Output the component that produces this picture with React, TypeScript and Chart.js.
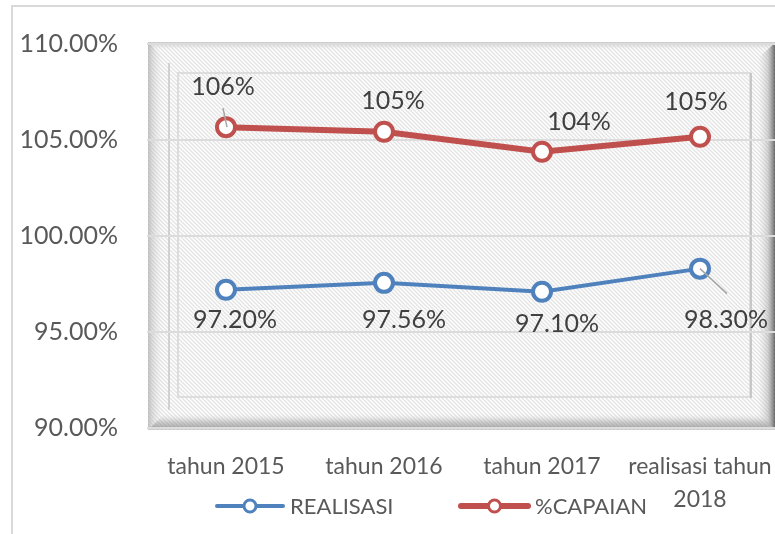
import React, { useEffect, useRef } from "react";
import { Chart, registerables } from "chart.js";

Chart.register(...registerables);

const categories: (string | string[])[] = ["tahun 2015", "tahun 2016", "tahun 2017", ["realisasi tahun", "2018"]];
const realisasi = [97.2, 97.56, 97.1, 98.3];
const capaian = [105.67, 105.43, 104.39, 105.17];
const realisasiLabels = ["97.20%", "97.56%", "97.10%", "98.30%"];
const capaianLabels = ["106%", "105%", "104%", "105%"];
const seriesNames = ["REALISASI", "%CAPAIAN"];
const yMin = 90;
const yMax = 110;
const yStep = 5;

const BLUE = "#4F81BD";
const RED = "#C0504D";
const TEXT = "#595959";
const FONT = "Lato, 'Open Sans', sans-serif";

function makeHatch(ctx: CanvasRenderingContext2D) {
  const c = document.createElement("canvas");
  c.width = 4;
  c.height = 4;
  const p = c.getContext("2d")!;
  p.fillStyle = "#ffffff";
  p.fillRect(0, 0, 4, 4);
  p.strokeStyle = "#e3e3e3";
  p.lineWidth = 1.3;
  p.beginPath();
  p.moveTo(-1, -1);
  p.lineTo(5, 5);
  p.moveTo(-1, 3);
  p.lineTo(1, 5);
  p.moveTo(3, -1);
  p.lineTo(5, 1);
  p.stroke();
  return ctx.createPattern(c, "repeat");
}

const framePlugin = {
  id: "frame",
  beforeDraw(chart: any) {
    const { ctx, chartArea: ca } = chart;
    ctx.save();
    ctx.fillStyle = "#ffffff";
    ctx.fillRect(0, 0, chart.width, chart.height);
    // outer chart border
    ctx.strokeStyle = "#d9d9d9";
    ctx.lineWidth = 2;
    ctx.strokeRect(12, 6, 2000, 2000);

    const x0 = ca.left + 1;
    const y0 = ca.top - 2;
    const x1 = ca.right - 3;
    const y1 = ca.bottom + 2;
    const pat = makeHatch(ctx);
    if (pat) {
      ctx.fillStyle = pat;
      ctx.fillRect(x0, y0, x1 - x0, y1 - y0);
    }
    // top edge
    let g = ctx.createLinearGradient(0, y0, 0, y0 + 8);
    g.addColorStop(0, "rgba(190,190,190,0.8)");
    g.addColorStop(1, "rgba(220,220,220,0)");
    ctx.fillStyle = g;
    ctx.fillRect(x0, y0, x1 - x0, 8);
    // left bevel
    g = ctx.createLinearGradient(x0, 0, x0 + 16, 0);
    g.addColorStop(0, "rgba(160,160,160,0.6)");
    g.addColorStop(0.4, "rgba(190,190,190,0.35)");
    g.addColorStop(1, "rgba(230,230,230,0)");
    ctx.fillStyle = g;
    ctx.beginPath();
    ctx.moveTo(x0, y0);
    ctx.lineTo(x0 + 16, y0 + 16);
    ctx.lineTo(x0 + 16, y1 - 16);
    ctx.lineTo(x0, y1);
    ctx.closePath();
    ctx.fill();
    // bottom bevel
    g = ctx.createLinearGradient(0, y1 - 16, 0, y1);
    g.addColorStop(0, "rgba(200,200,200,0)");
    g.addColorStop(0.5, "rgba(150,150,150,0.45)");
    g.addColorStop(0.8, "rgba(130,130,130,0.6)");
    g.addColorStop(1, "rgba(200,200,200,0.7)");
    ctx.fillStyle = g;
    ctx.beginPath();
    ctx.moveTo(x0, y1);
    ctx.lineTo(x0 + 16, y1 - 16);
    ctx.lineTo(x1 - 16, y1 - 16);
    ctx.lineTo(x1, y1);
    ctx.closePath();
    ctx.fill();
    // right bevel
    g = ctx.createLinearGradient(x1 - 18, 0, x1, 0);
    g.addColorStop(0, "rgba(200,200,200,0)");
    g.addColorStop(0.55, "rgba(160,160,160,0.45)");
    g.addColorStop(1, "rgba(70,70,70,0.9)");
    ctx.fillStyle = g;
    ctx.beginPath();
    ctx.moveTo(x1, y0);
    ctx.lineTo(x1, y1);
    ctx.lineTo(x1 - 18, y1 - 16);
    ctx.lineTo(x1 - 18, y0 + 16);
    ctx.closePath();
    ctx.fill();
    // inner lines
    ctx.strokeStyle = "rgba(205,205,205,0.9)";
    ctx.lineWidth = 2;
    ctx.beginPath();
    ctx.moveTo(x0 + 21, y0 + 21);
    ctx.lineTo(x0 + 21, y1 - 20);
    ctx.stroke();
    ctx.strokeStyle = "rgba(218,218,218,0.9)";
    ctx.strokeRect(ca.left + 31, ca.top + 29, ca.right - 29 - (ca.left + 31), ca.bottom - 31 - (ca.top + 29));
    ctx.strokeStyle = "rgba(195,195,195,0.9)";
    ctx.beginPath();
    ctx.moveTo(ca.right - 28, ca.top + 29);
    ctx.lineTo(ca.right - 28, ca.bottom - 30);
    ctx.stroke();
    ctx.restore();
  },
};

const labelPlugin = {
  id: "pointLabels",
  afterDatasetsDraw(chart: any, _args: any, opts: any) {
    const ctx = chart.ctx;
    ctx.save();
    ctx.font = `25px ${FONT}`;
    ctx.fillStyle = "#404040";
    ctx.textAlign = "center";
    ctx.textBaseline = "middle";
    chart.data.datasets.forEach((ds: any, di: number) => {
      const meta = chart.getDatasetMeta(di);
      const texts = di === 0 ? realisasiLabels : capaianLabels;
      meta.data.forEach((pt: any, i: number) => {
        const [dx, dy] = opts.offsets[di][i];
        ctx.fillText(texts[i], pt.x + dx, pt.y + dy);
        const ld = opts.leaders[di][i];
        if (ld) {
          ctx.strokeStyle = "#a6a6a6";
          ctx.lineWidth = 1.5;
          ctx.beginPath();
          ctx.moveTo(pt.x + ld[0], pt.y + ld[1]);
          ctx.lineTo(pt.x + ld[2], pt.y + ld[3]);
          ctx.stroke();
        }
      });
    });
    ctx.restore();
  },
};

const legendPlugin = {
  id: "customLegend",
  afterDraw(chart: any, _args: any, opts: any) {
    const ctx = chart.ctx;
    ctx.save();
    ctx.font = `22px ${FONT}`;
    ctx.textBaseline = "middle";
    ctx.textAlign = "left";
    chart.data.datasets.forEach((ds: any, di: number) => {
      const it = opts.items[di];
      const y = opts.y;
      ctx.strokeStyle = ds.borderColor;
      ctx.lineWidth = ds.borderWidth;
      ctx.lineCap = "round";
      ctx.beginPath();
      ctx.moveTo(it.x, y);
      ctx.lineTo(it.x + it.w, y);
      ctx.stroke();
      ctx.beginPath();
      ctx.fillStyle = "#ffffff";
      ctx.lineWidth = 3;
      ctx.arc(it.x + it.w / 2, y, 6, 0, Math.PI * 2);
      ctx.fill();
      ctx.stroke();
      ctx.fillStyle = TEXT;
      ctx.fillText(seriesNames[di], it.x + it.w + 7, y + 1);
    });
    ctx.restore();
  },
};

export default function App() {
  const ref = useRef<HTMLCanvasElement | null>(null);
  useEffect(() => {
    if (!ref.current) return;
    const chart = new Chart(ref.current, {
      type: "line",
      data: {
        labels: categories,
        datasets: [
          {
            label: seriesNames[0],
            data: realisasi,
            borderColor: BLUE,
            borderWidth: 4,
            pointRadius: 9,
            pointBorderWidth: 4,
            pointBackgroundColor: "#ffffff",
            pointBorderColor: BLUE,
            tension: 0,
          },
          {
            label: seriesNames[1],
            data: capaian,
            borderColor: RED,
            borderWidth: 6,
            pointRadius: 9,
            pointBorderWidth: 4,
            pointBackgroundColor: "#ffffff",
            pointBorderColor: RED,
            tension: 0,
          },
        ],
      },
      options: {
        responsive: false,
        animation: false,
        layout: { padding: { top: 43, left: 0, right: 21, bottom: 0 } },
        plugins: {
          legend: { display: false },
          tooltip: { enabled: false },
          pointLabels: {
            offsets: [
              [[9, 30], [20, 37], [15, 32], [26, 51]],
              [[-3, -40], [9, -31], [37, -30], [-4, -35]],
            ],
            leaders: [
              [null, null, null, [0, 0, 27, 25]],
              [[-3, -19, 1, 0], null, null, null],
            ],
          },
          customLegend: {
            y: 506,
            items: [
              { x: 217, w: 66 },
              { x: 461, w: 67 },
            ],
          },
        } as any,
        scales: {
          x: {
            offset: true,
            grid: { display: false, drawTicks: false },
            border: { display: false },
            ticks: {
              color: TEXT,
              font: { family: FONT, size: 23, lineHeight: 1.45 },
              padding: 22,
              maxRotation: 0,
              autoSkip: false,
            },
            afterFit: (s: any) => {
              s.height = 106;
            },
          },
          y: {
            min: yMin,
            max: yMax,
            grid: { color: "#dcdcdc", lineWidth: 2, drawTicks: false },
            border: { display: false },
            ticks: {
              stepSize: yStep,
              color: TEXT,
              font: { family: FONT, size: 25 },
              padding: 29,
              callback: (v: any) => Number(v).toFixed(2) + "%",
            },
            afterFit: (s: any) => {
              s.width = 147;
            },
          },
        },
      },
      plugins: [framePlugin, labelPlugin, legendPlugin],
    });
    return () => chart.destroy();
  }, []);
  return (
    <div style={{ position: "absolute", left: 0, top: 0, width: 775, height: 534, overflow: "hidden" }}>
      <canvas ref={ref} width={800} height={534} style={{ display: "block", width: 800, height: 534 }} />
    </div>
  );
}
